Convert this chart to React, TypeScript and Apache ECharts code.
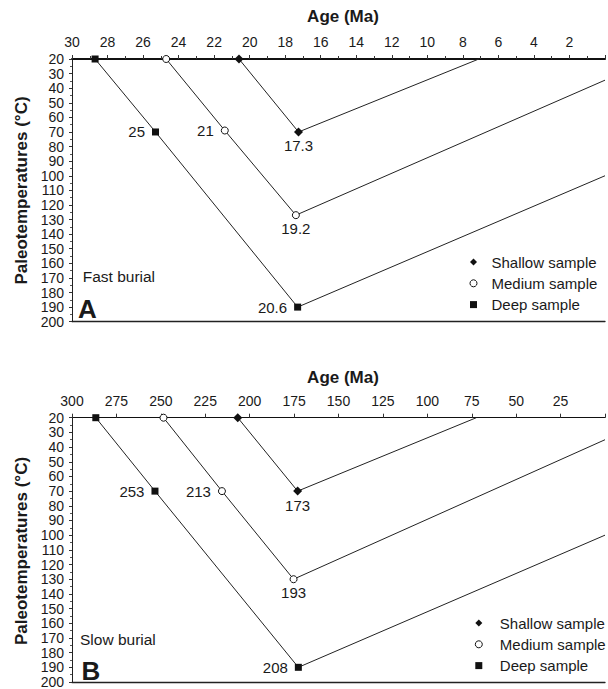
import React, { useEffect, useRef } from 'react';
import * as echarts from 'echarts';

const seriesNames = ['Shallow sample', 'Medium sample', 'Deep sample'];

// Panel A (fast burial) – ages in Ma, temperatures in °C
const shallowAgeA = [20.6, 17.25, 7.1];
const shallowTempA = [20, 70, 20];
const shallowLabelA = ['', '17.3', ''];
const mediumAgeA = [24.7, 21.4, 17.4, 0];
const mediumTempA = [20, 69, 127, 34.5];
const mediumLabelA = ['', '21', '19.2', ''];
const deepAgeA = [28.7, 25.3, 17.3, 0];
const deepTempA = [20, 70, 190, 100];
const deepLabelA = ['', '25', '20.6', ''];

// Panel B (slow burial)
const shallowAgeB = [206.7, 173, 72.4];
const shallowTempB = [20, 70, 20];
const shallowLabelB = ['', '173', ''];
const mediumAgeB = [248.5, 215.6, 175.3, 0];
const mediumTempB = [20, 70, 130, 35];
const mediumLabelB = ['', '213', '193', ''];
const deepAgeB = [286.6, 253.3, 172.6, 0];
const deepTempB = [20, 70, 190, 100];
const deepLabelB = ['', '253', '208', ''];

const FONT = '"Liberation Sans", Arial, Helvetica, sans-serif';
const INK = '#1a1a1a';

type Kind = 'shallow' | 'medium' | 'deep';

function labelPos(kind: Kind, i: number): string {
  if (kind === 'shallow') return 'bottom';
  if (kind === 'medium') return i === 1 ? 'left' : 'bottom';
  return 'left';
}

function buildSeries(kind: Kind, name: string, ages: number[], temps: number[], labels: string[], gridIndex: number) {
  const last = ages.length - 1;
  const data = ages.map((a, i) => {
    const item: any = { value: [a, temps[i]] };
    if (i === last) item.symbol = 'none';
    if (labels[i]) {
      const pos = labelPos(kind, i);
      item.label = {
        show: true,
        position: pos,
        distance: pos === 'left' ? 7 : 2,
        formatter: labels[i],
        fontSize: 15,
        fontFamily: FONT,
        color: INK,
      };
    }
    return item;
  });
  const symbol = kind === 'shallow' ? 'diamond' : kind === 'medium' ? 'circle' : 'rect';
  const size = kind === 'shallow' ? 9 : 7;
  return {
    type: 'line',
    name,
    xAxisIndex: gridIndex * 2,
    yAxisIndex: gridIndex,
    data,
    symbol,
    symbolSize: size,
    showAllSymbol: true,
    clip: false,
    z: 5,
    itemStyle:
      kind === 'medium'
        ? { color: '#ffffff', borderColor: '#111', borderWidth: 1 }
        : { color: '#111', borderColor: '#111', borderWidth: 0 },
    lineStyle: { color: '#222', width: 1 },
    emphasis: { disabled: true },
  };
}

function topAxis(gridIndex: number, max: number, interval: number, lineWidth: number, minor: boolean) {
  return {
    type: 'value',
    gridIndex,
    position: 'top',
    inverse: true,
    min: 0,
    max,
    interval,
    axisLine: { show: true, onZero: false, lineStyle: { color: '#111', width: lineWidth } },
    axisTick: { show: true, inside: false, length: 4, lineStyle: { color: '#333', width: 1 } },
    minorTick: { show: minor, splitNumber: 2, length: 3, lineStyle: { color: '#333', width: 1 } },
    splitLine: { show: false },
    minorSplitLine: { show: false },
    axisLabel: {
      margin: 10,
      fontSize: 14,
      fontFamily: FONT,
      color: INK,
      showMinLabel: true,
      showMaxLabel: true,
      formatter: (v: number) => (v === 0 ? '' : String(v)),
    },
  };
}

function bottomLine(gridIndex: number, max: number) {
  return {
    type: 'value',
    gridIndex,
    position: 'bottom',
    min: 0,
    max,
    axisLine: { show: true, onZero: false, lineStyle: { color: '#222', width: 1.3 } },
    axisTick: { show: false },
    axisLabel: { show: false },
    splitLine: { show: false },
  };
}

function yAxis(gridIndex: number) {
  return {
    type: 'value',
    gridIndex,
    inverse: true,
    min: 20,
    max: 200,
    interval: 10,
    axisLine: { show: true, onZero: false, lineStyle: { color: '#222', width: 1 } },
    axisTick: { show: true, inside: false, length: 3, lineStyle: { color: '#333' } },
    minorTick: { show: true, splitNumber: 2, length: 2, lineStyle: { color: '#555' } },
    splitLine: { show: false },
    axisLabel: {
      margin: 8,
      fontSize: 14,
      lineHeight: 13,
      fontFamily: FONT,
      color: INK,
      showMinLabel: true,
      showMaxLabel: true,
      hideOverlap: false,
    },
  };
}

function legend(left: number, top: number, pad: number) {
  return {
    orient: 'vertical',
    left,
    top,
    itemWidth: 7,
    itemHeight: 7,
    itemGap: 5.3,
    selectedMode: false,
    textStyle: { fontSize: 15, fontFamily: FONT, color: INK, lineHeight: 16, padding: [0, 0, 0, pad] },
    data: [
      { name: seriesNames[0], icon: 'diamond', itemStyle: { color: '#111', borderWidth: 0 } },
      { name: seriesNames[1], icon: 'circle', itemStyle: { color: '#fff', borderColor: '#111', borderWidth: 1 } },
      { name: seriesNames[2], icon: 'rect', itemStyle: { color: '#111', borderWidth: 0 } },
    ],
  };
}

function txt(x: number, y: number, text: string, size: number, bold: boolean, align: string, rotation = 0) {
  return {
    type: 'text',
    x,
    y,
    rotation,
    silent: true,
    style: {
      text,
      fill: INK,
      font: `${bold ? 'bold ' : ''}${size}px ${FONT}`,
      textAlign: align,
      textVerticalAlign: 'middle',
    },
  };
}

export default function App() {
  const ref = useRef<HTMLDivElement>(null);

  useEffect(() => {
    if (!ref.current) return;
    const chart = echarts.init(ref.current, undefined, { renderer: 'svg' });
    const option: any = {
      animation: false,
      backgroundColor: '#ffffff',
      textStyle: { fontFamily: FONT },
      grid: [
        { left: 72, top: 59, width: 540, height: 262.7 },
        { left: 72, top: 417.7, width: 540, height: 267.3 },
      ],
      xAxis: [
        topAxis(0, 30, 2, 2, true),
        bottomLine(0, 30),
        topAxis(1, 300, 25, 1, false),
        bottomLine(1, 300),
      ],
      yAxis: [yAxis(0), yAxis(1)],
      legend: [legend(464.5, 249, 9.5), legend(469.8, 610, 12.5)],
      series: [
        buildSeries('shallow', seriesNames[0], shallowAgeA, shallowTempA, shallowLabelA, 0),
        buildSeries('medium', seriesNames[1], mediumAgeA, mediumTempA, mediumLabelA, 0),
        buildSeries('deep', seriesNames[2], deepAgeA, deepTempA, deepLabelA, 0),
        buildSeries('shallow', seriesNames[0], shallowAgeB, shallowTempB, shallowLabelB, 1),
        buildSeries('medium', seriesNames[1], mediumAgeB, mediumTempB, mediumLabelB, 1),
        buildSeries('deep', seriesNames[2], deepAgeB, deepTempB, deepLabelB, 1),
      ],
      graphic: [
        txt(343, 16, 'Age (Ma)', 17, true, 'center'),
        txt(343, 377, 'Age (Ma)', 17, true, 'center'),
        txt(21, 190.5, 'Paleotemperatures (°C)', 17, true, 'center', Math.PI / 2),
        txt(21, 551, 'Paleotemperatures (°C)', 17, true, 'center', Math.PI / 2),
        txt(82.7, 276.7, 'Fast burial', 15.5, false, 'left'),
        txt(78, 308.5, 'A', 26, true, 'left'),
        txt(80, 639.3, 'Slow burial', 15.5, false, 'left'),
        txt(81.5, 670.5, 'B', 26, true, 'left'),
      ],
    };
    chart.setOption(option);
    return () => chart.dispose();
  }, []);

  return (
    <div
      ref={ref}
      style={{ position: 'absolute', left: 0, top: 0, width: 608, height: 689, background: '#fff' }}
    />
  );
}
